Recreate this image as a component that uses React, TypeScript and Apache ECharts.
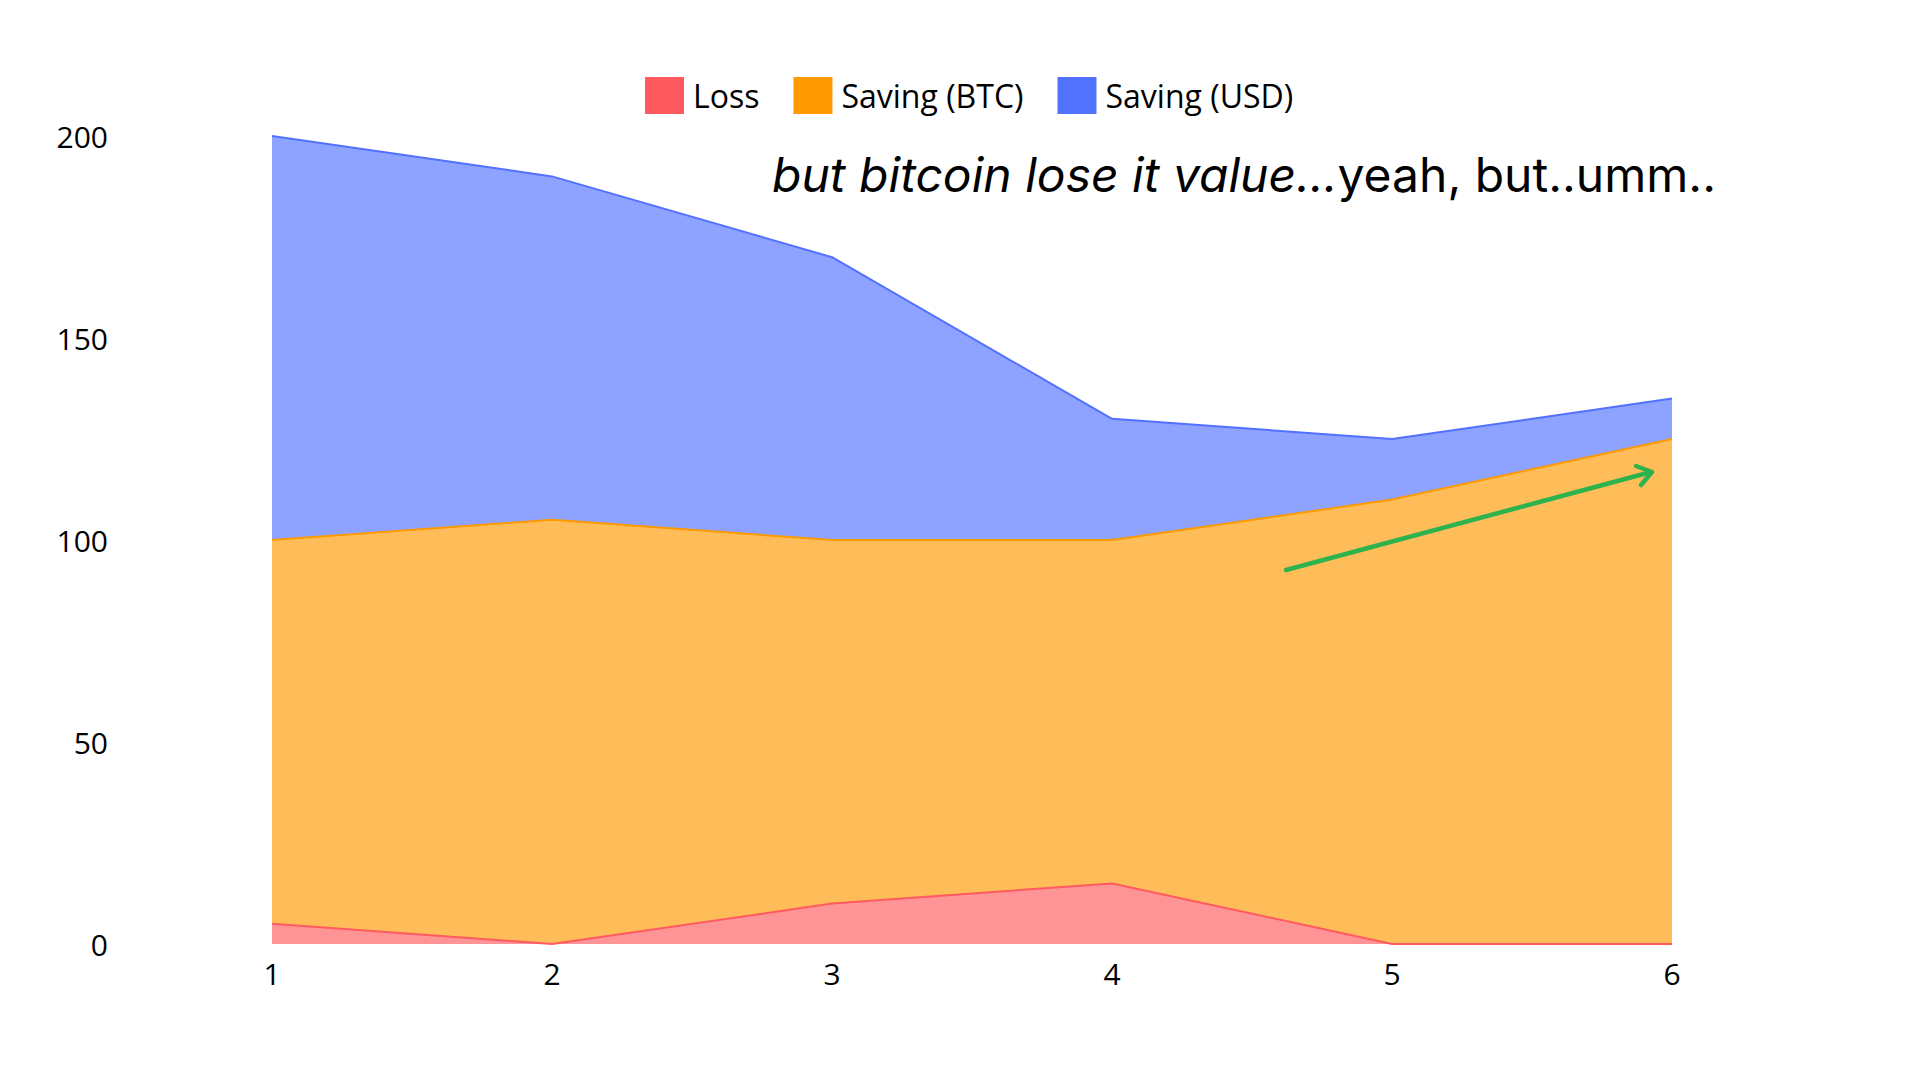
import React, { useEffect, useRef } from "react";
import * as echarts from "echarts";

const categories = ["1", "2", "3", "4", "5", "6"];
const lossValues = [5, 0, 10, 15, 0, 0];
const btcValues = [95, 105, 90, 85, 110, 125];
const usdValues = [100, 85, 70, 30, 15, 10];
const seriesNames = ["Loss", "Saving (BTC)", "Saving (USD)"];
const seriesColors = ["#FF5A5F", "#FF9900", "#5271FF"];
const yTicks = { min: 0, max: 200, interval: 50 };
const annotationItalic = "but bitcoin lose it value...";
const annotationNormal = "yeah, but..umm..";

export default function App() {
  const ref = useRef<HTMLDivElement>(null);
  useEffect(() => {
    if (!ref.current) return;
    const chart = echarts.init(ref.current, null, { renderer: "svg" });
    const dataSets = [lossValues, btcValues, usdValues];
    chart.setOption({
      animation: false,
      backgroundColor: "#ffffff",
      color: seriesColors,
      legend: {
        data: seriesNames,
        left: 645,
        top: 77,
        padding: 0,
        itemWidth: 39,
        itemHeight: 37,
        itemGap: 34,
        icon: "rect",
        textStyle: {
          fontSize: 32,
          color: "#000",
          fontFamily: "Open Sans",
          padding: [0, 0, 0, 4],
        },
      },
      grid: { left: 272, right: 248, top: 136, bottom: 136 },
      xAxis: {
        type: "category",
        data: categories,
        boundaryGap: false,
        axisLine: { show: false },
        axisTick: { show: false },
        splitLine: { show: false },
        axisLabel: {
          fontSize: 30,
          color: "#000",
          fontFamily: "Open Sans",
          margin: 14,
        },
      },
      yAxis: {
        type: "value",
        min: yTicks.min,
        max: yTicks.max,
        interval: yTicks.interval,
        axisLine: { show: false },
        axisTick: { show: false },
        splitLine: { show: false },
        axisLabel: {
          fontSize: 30,
          color: "#000",
          fontFamily: "Open Sans",
          margin: 164,
        },
      },
      series: seriesNames.map((name, i) => ({
        name,
        type: "line",
        stack: "total",
        data: dataSets[i],
        symbol: "none",
        lineStyle: { width: 2, color: seriesColors[i] },
        areaStyle: { color: seriesColors[i], opacity: 0.65 },
        itemStyle: { color: seriesColors[i] },
      })),
      graphic: [
        {
          type: "text",
          x: 772,
          y: 174,
          z: 100,
          style: {
            text: `{i|${annotationItalic}}{n|${annotationNormal}}`,
            verticalAlign: "middle",
            rich: {
              i: {
                fontSize: 48,
                fontStyle: "italic",
                fontFamily: "Inter",
                fill: "#000",
              },
              n: {
                fontSize: 48,
                fontFamily: "Inter",
                fill: "#000",
              },
            },
          },
        },
        {
          type: "line",
          z: 100,
          shape: { x1: 1286, y1: 570, x2: 1651, y2: 472 },
          style: { stroke: "#2DB34D", lineWidth: 4.5, lineCap: "round" },
        },
        {
          type: "polyline",
          z: 100,
          shape: { points: [[1636, 466], [1652, 472], [1641, 485]] },
          style: {
            stroke: "#2DB34D",
            lineWidth: 4.5,
            lineCap: "round",
            lineJoin: "round",
            fill: null,
          },
        },
      ],
    });
    return () => chart.dispose();
  }, []);
  return (
    <div
      ref={ref}
      style={{ position: "fixed", left: 0, top: 0, width: 1920, height: 1080 }}
    />
  );
}
